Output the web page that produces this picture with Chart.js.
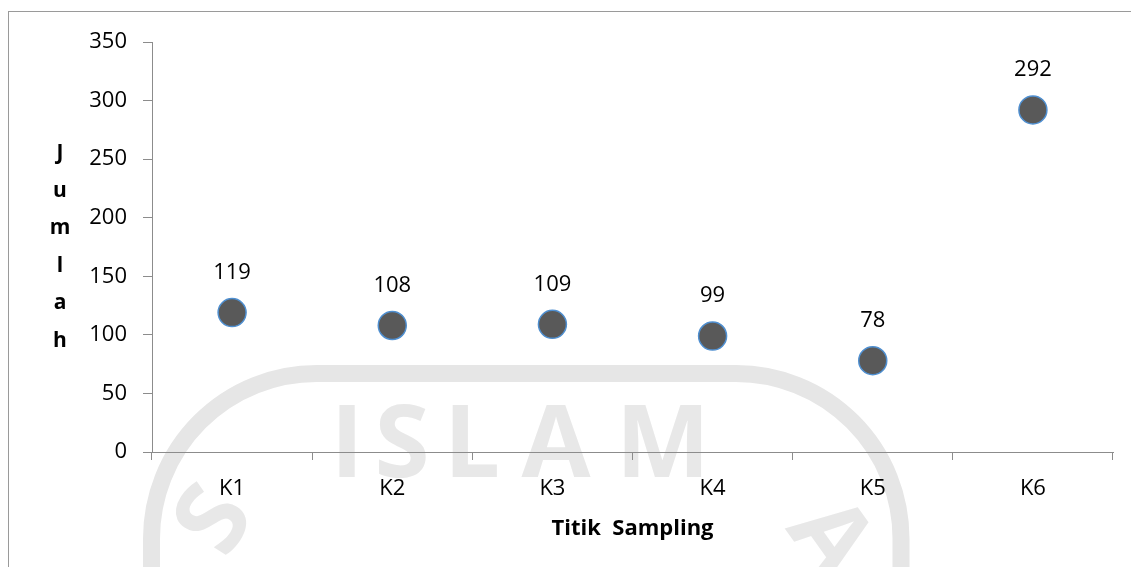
<!DOCTYPE html>
<html>
<head>
<meta charset="utf-8">
<script src="https://cdn.jsdelivr.net/npm/chart.js@4.4.1/dist/chart.umd.min.js"></script>
<style>
  html, body { margin: 0; padding: 0; background: #fff; }
  #wrap { position: relative; width: 1131px; height: 567px; }
</style>
</head>
<body>
<div id="wrap"><canvas id="c" width="1131" height="567"></canvas></div>
<script>
// Sampling points and counts
const categories = ['K1', 'K2', 'K3', 'K4', 'K5', 'K6'];
const jumlah = [119, 108, 109, 99, 78, 292];
const yTicks = [0, 50, 100, 150, 200, 250, 300, 350];
const xTitle = 'Titik  Sampling';
const yTitle = 'Jumlah';

Chart.defaults.font.family = "'Open Sans', sans-serif";
Chart.defaults.color = '#000';

const axisGrey = '#8c8c8c';

// Faint background emblem and the outer frame
const backdrop = {
  id: 'backdrop',
  beforeDraw(chart) {
    const ctx = chart.ctx;
    ctx.save();
    ctx.strokeStyle = '#e6e6e6';
    ctx.lineWidth = 17;
    ctx.beginPath();
    ctx.roundRect(151.5, 373.5, 749.5, 420, 165);
    ctx.stroke();

    ctx.fillStyle = '#e8e8e8';
    ctx.font = "700 100px 'Open Sans'";
    ctx.textAlign = 'center';
    ctx.textBaseline = 'alphabetic';
    const letters = [['I', 347], ['S', 402], ['L', 472], ['A', 556], ['M', 663]];
    letters.forEach(([ch, x]) => ctx.fillText(ch, x, 477));

    ctx.textBaseline = 'middle';
    ctx.save();
    ctx.translate(217, 522);
    ctx.rotate(-1.0);
    ctx.fillText('S', 0, 0);
    ctx.restore();
    ctx.save();
    ctx.translate(828, 540);
    ctx.rotate(0.95);
    ctx.fillText('A', 0, 0);
    ctx.restore();

    ctx.strokeStyle = '#9a9a9a';
    ctx.lineWidth = 1;
    ctx.strokeRect(8.5, 11.5, 1300, 700);
    ctx.restore();
  }
};

// Value labels above points and the stacked vertical y title
const annotate = {
  id: 'annotate',
  afterDatasetsDraw(chart) {
    const ctx = chart.ctx;
    ctx.save();
    ctx.fillStyle = '#000';
    ctx.font = "22px 'Open Sans'";
    ctx.textAlign = 'center';
    ctx.textBaseline = 'middle';
    const meta = chart.getDatasetMeta(0);
    meta.data.forEach((pt, i) => {
      ctx.fillText(String(jumlah[i]), pt.x, pt.y - 40);
    });

    const ys = chart.scales.y;
    const mid = (ys.top + ys.bottom) / 2;
    const step = 37.6;
    ctx.font = "bold 21px 'Open Sans'";
    const chars = yTitle.split('');
    chars.forEach((ch, i) => {
      ctx.fillText(ch, 60, mid + (i - (chars.length - 1) / 2) * step);
    });
    ctx.restore();
  }
};

new Chart(document.getElementById('c'), {
  type: 'line',
  data: {
    labels: categories,
    datasets: [{
      label: yTitle,
      data: jumlah,
      showLine: false,
      pointRadius: 14,
      pointHoverRadius: 14,
      pointBackgroundColor: '#595959',
      pointBorderColor: '#4f8fd0',
      pointBorderWidth: 1.5
    }]
  },
  options: {
    responsive: false,
    animation: false,
    devicePixelRatio: 1,
    layout: { padding: { top: 42, right: 18, bottom: 0, left: 0 } },
    plugins: {
      legend: { display: false },
      tooltip: { enabled: false },
      title: { display: false }
    },
    events: [],
    scales: {
      x: {
        type: 'category',
        offset: true,
        grid: {
          display: true,
          drawOnChartArea: false,
          drawTicks: true,
          tickLength: 8,
          color: axisGrey,
          offset: true
        },
        border: { display: true, color: axisGrey, width: 1 },
        ticks: { padding: 16, font: { size: 22 }, color: '#000' },
        title: {
          display: true,
          text: xTitle,
          font: { size: 22, weight: 'bold' },
          color: '#000',
          padding: { top: 0, bottom: 25 }
        },
        afterFit(scale) { scale.height = 115; }
      },
      y: {
        min: yTicks[0],
        max: yTicks[yTicks.length - 1],
        grid: {
          display: true,
          drawOnChartArea: false,
          drawTicks: true,
          tickLength: 9,
          color: axisGrey
        },
        border: { display: true, color: axisGrey, width: 1 },
        ticks: {
          stepSize: yTicks[1] - yTicks[0],
          padding: 16,
          font: { size: 22 },
          color: '#000'
        },
        afterFit(scale) { scale.width = 152; }
      }
    }
  },
  plugins: [backdrop, annotate]
});
</script>
</body>
</html>
